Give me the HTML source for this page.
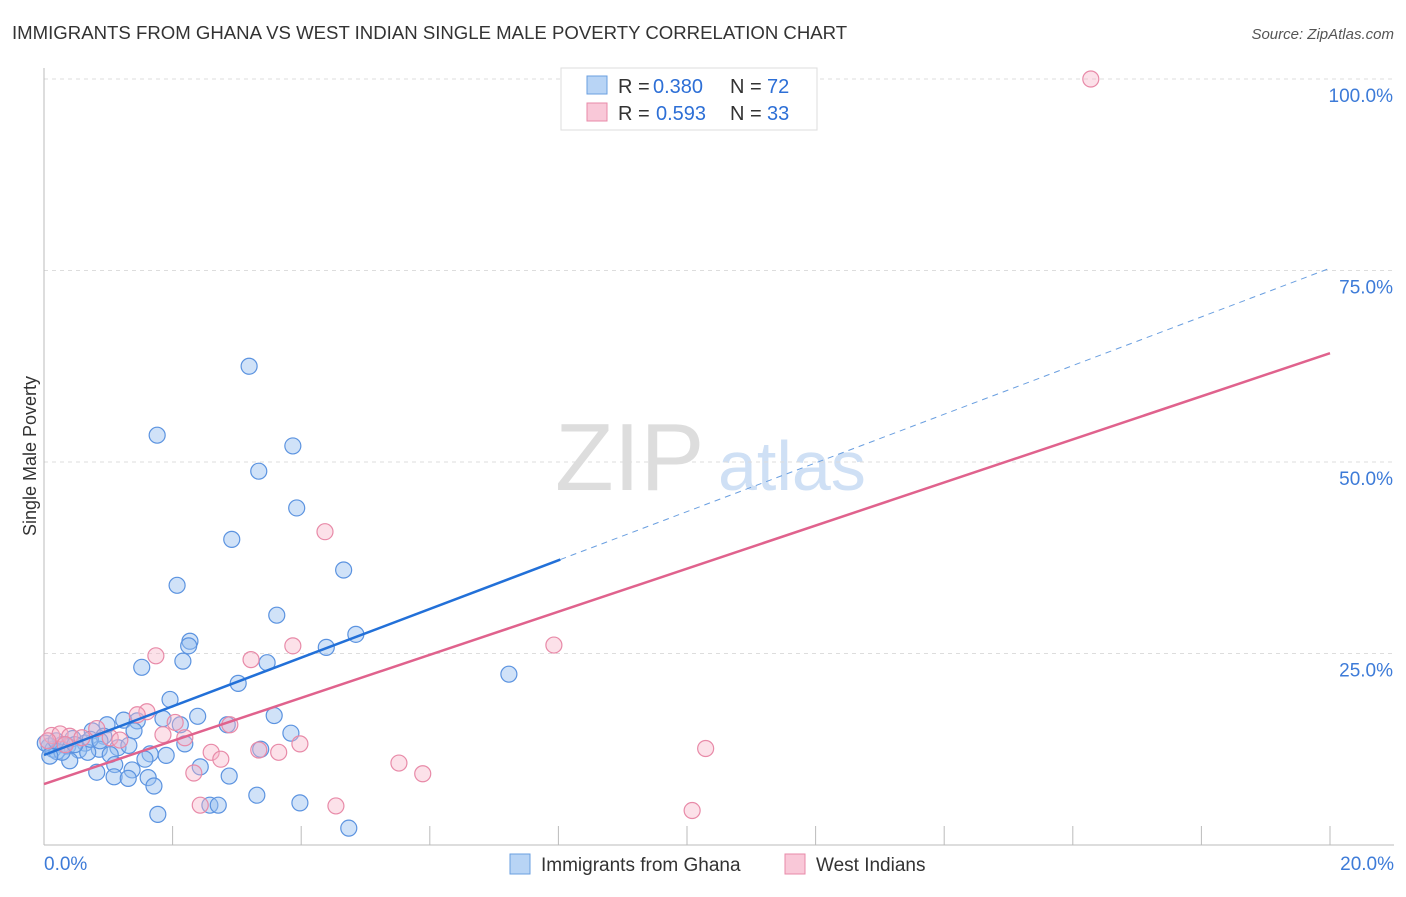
<!DOCTYPE html>
<html><head><meta charset="utf-8"><style>
body{margin:0;background:#fff;font-family:"Liberation Sans",sans-serif;}
svg text{font-family:"Liberation Sans",sans-serif;}
</style></head><body>
<svg id="c" width="1406" height="892" xmlns="http://www.w3.org/2000/svg">
<text x="12" y="39" font-size="18.6" fill="#333">IMMIGRANTS FROM GHANA VS WEST INDIAN SINGLE MALE POVERTY CORRELATION CHART</text>
<text x="1394" y="39" font-size="15" fill="#555" text-anchor="end" font-style="italic">Source: ZipAtlas.com</text>
<text x="36" y="456" font-size="18" fill="#333" text-anchor="middle" transform="rotate(-90 36 456)">Single Male Poverty</text>
<text x="555" y="490" font-size="96" fill="#ddd" font-family="Liberation Serif">ZIP</text>
<text x="718" y="490" font-size="70" fill="#cfe0f5">atlas</text>
<g id="grid"></g><g id="pts"></g><g id="lines"></g>
<g>
<rect x="561" y="68" width="256" height="62" fill="#fff" stroke="#ddd"/>
<rect x="587" y="76" width="20" height="18" fill="#b8d4f5" stroke="#6a9fe0"/>
<text x="618" y="93" font-size="20" fill="#333">R =</text><text x="653" y="93" font-size="20" fill="#2d6fd6">0.380</text>
<text x="730" y="93" font-size="20" fill="#333">N =</text><text x="767" y="93" font-size="20" fill="#2d6fd6">72</text>
<rect x="587" y="103" width="20" height="18" fill="#f9c8d8" stroke="#e88aa8"/>
<text x="618" y="120" font-size="20" fill="#333">R =</text><text x="656" y="120" font-size="20" fill="#2d6fd6">0.593</text>
<text x="730" y="120" font-size="20" fill="#333">N =</text><text x="767" y="120" font-size="20" fill="#2d6fd6">33</text>
</g>
<g>
<rect x="510" y="854" width="20" height="20" fill="#b8d4f5" stroke="#6a9fe0"/>
<text x="541" y="871" font-size="19" fill="#333">Immigrants from Ghana</text>
<rect x="785" y="854" width="20" height="20" fill="#f9c8d8" stroke="#e88aa8"/>
<text x="816" y="871" font-size="19" fill="#333">West Indians</text>
</g>
</svg>
<script>
const xTicks=[0,2,4,6,8,10,12,14,16,18,20];
const yTicks=[25,50,75,100];
const ghanaX=[1.76,3.19,3.87,3.34,3.93,2.92,4.66,2.07,3.62,2.27,4.85,4.39,1.52,2.16,3.47,3.02,7.23,1.96,1.85,2.39,2.85,3.58,1.24,1.45,2.12,3.84,0.98,0.75,1.40,0.93,0.64,0.45,0.28,0.08,0.14,0.20,0.37,0.54,0.86,1.15,1.32,2.19,3.37,1.65,0.68,1.03,1.57,1.90,0.40,1.10,2.43,1.37,0.82,1.09,1.31,1.62,2.88,1.71,3.31,3.98,2.58,2.71,1.77,4.74,0.28,0.02,0.48,0.19,0.72,0.87,0.09,2.25];
const ghanaY=[53.5,62.5,52.1,48.8,44.0,39.9,35.9,33.9,30.0,26.6,27.5,25.8,23.2,24.0,23.8,21.1,22.3,19.0,16.5,16.8,15.7,16.9,16.3,16.2,15.7,14.6,15.7,14.9,14.9,14.2,13.3,13.9,13.1,12.9,12.5,12.2,12.9,12.4,12.5,12.7,13.0,13.2,12.5,11.9,12.1,11.8,11.2,11.7,11.0,10.5,10.2,9.8,9.5,8.9,8.7,8.8,9.0,7.7,6.5,5.5,5.2,5.2,4.0,2.2,12.1,13.3,13.1,13.6,13.8,13.6,11.6,26.0];
const wiX=[16.28,4.37,7.93,3.87,3.22,1.74,1.60,1.45,2.04,2.89,1.85,0.82,2.19,3.98,10.29,3.34,3.65,2.60,5.52,5.89,2.33,2.75,2.43,4.54,10.08,0.12,0.25,0.40,0.59,0.06,0.33,1.03,1.18];
const wiY=[100,40.9,26.1,26.0,24.2,24.7,17.4,17.0,16.0,15.7,14.4,15.2,14.0,13.2,12.6,12.4,12.1,12.1,10.7,9.3,9.4,11.2,5.2,5.1,4.5,14.3,14.5,14.2,14.0,13.6,13.1,14.0,13.7];
const blueLine=[11.75,75.3]; const pinkLine=[7.96,64.2];
const X=v=>44+v/20*1286, Y=v=>845-v/25*191.5;
const NS='http://www.w3.org/2000/svg';
function mk(t,a,p){const e=document.createElementNS(NS,t);for(const k in a)e.setAttribute(k,a[k]);p.appendChild(e);return e;}
const g=document.getElementById('grid');
yTicks.forEach(t=>{const l=mk('line',{x1:44,x2:1394,y1:Y(t),y2:Y(t),stroke:'#ddd','stroke-dasharray':'4,4'},g);


const tx=mk('text',{x:1393,y:Y(t)+23,'font-size':19,fill:'#3d7bd8','text-anchor':'end'},g);tx.textContent=t.toFixed(1)+'%';

});
mk('line',{x1:44,x2:44,y1:68,y2:845,stroke:'#bbb'},g);
mk('line',{x1:44,x2:1394,y1:845,y2:845,stroke:'#bbb'},g);
xTicks.forEach((t,i)=>{if(i>0){const l=mk('line',{x1:X(t),x2:X(t),y1:826,y2:845,stroke:'#bbb'},g);

}});
[[0,'start',44],[20,'end',1394]].forEach(([t,a,x])=>{const tx=mk('text',{x:x,y:870,'font-size':19,fill:'#3d7bd8','text-anchor':a},g);tx.textContent=t.toFixed(1)+'%';

});
const p=document.getElementById('pts');
ghanaX.forEach((x,i)=>{const c=mk('circle',{cx:X(x),cy:Y(ghanaY[i]),r:8,fill:'rgba(150,190,240,0.45)',stroke:'#5b93e0','stroke-width':1.2},p);

});
wiX.forEach((x,i)=>{const c=mk('circle',{cx:X(x),cy:Y(wiY[i]),r:8,fill:'rgba(248,180,200,0.4)',stroke:'#e88aa8','stroke-width':1.2},p);

});
const L=document.getElementById('lines');
const bx=8.03, by=blueLine[0]+(blueLine[1]-blueLine[0])*bx/20;
let l=mk('line',{x1:X(0),y1:Y(blueLine[0]),x2:X(bx),y2:Y(by),stroke:'#2270d8','stroke-width':2.5},L);


l=mk('line',{x1:X(bx),y1:Y(by),x2:X(20),y2:Y(blueLine[1]),stroke:'#6a9fe0','stroke-width':1,'stroke-dasharray':'6,5'},L);


l=mk('line',{x1:X(0),y1:Y(pinkLine[0]),x2:X(20),y2:Y(pinkLine[1]),stroke:'#e0628d','stroke-width':2.5},L);


</script>
</body></html>
